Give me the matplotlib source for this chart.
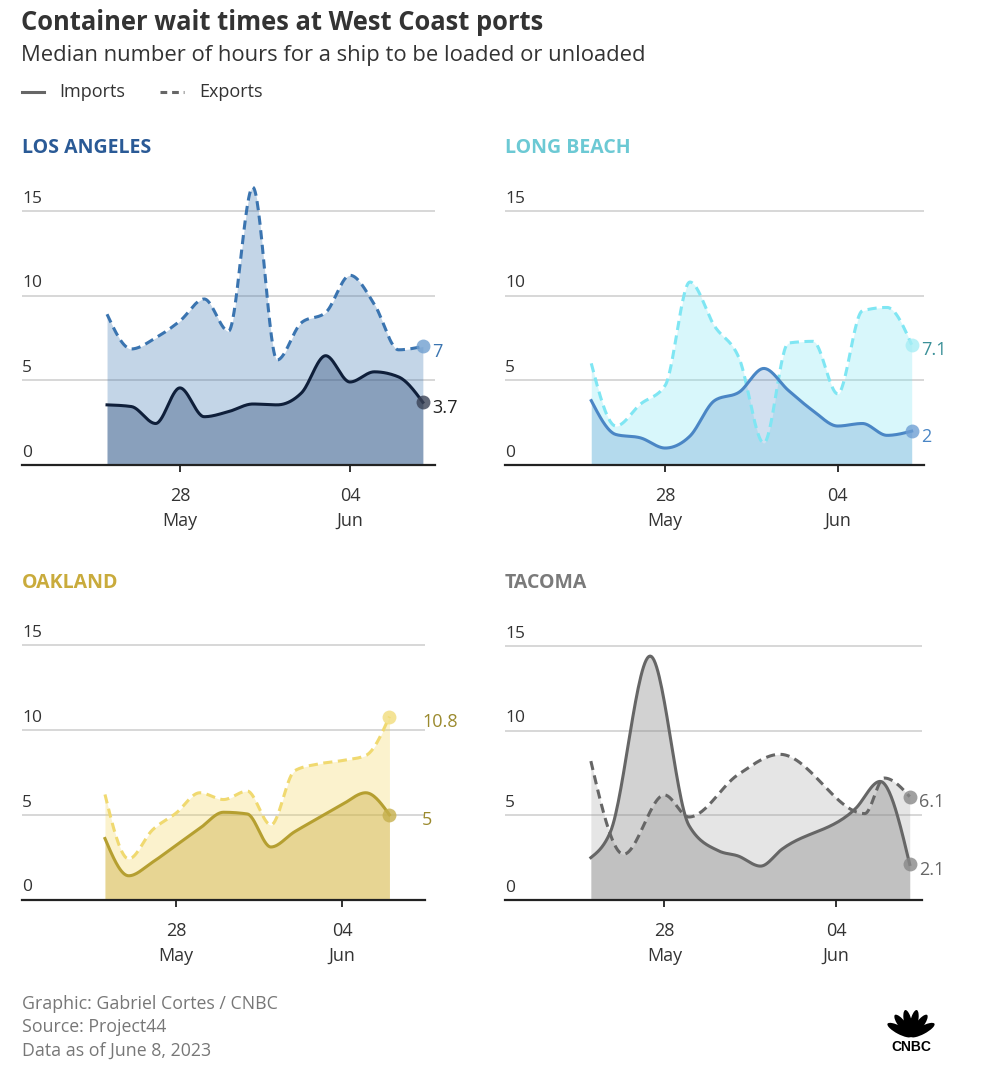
import numpy as np
import pandas as pd
import matplotlib
matplotlib.use("Agg")
import matplotlib.pyplot as plt
import matplotlib.dates as mdates
from matplotlib.lines import Line2D
from matplotlib.patches import Ellipse

plt.rcParams['font.family'] = ['Open Sans', 'DejaVu Sans']

W, H = 1008, 1080

# ---- data (hours) ----
dates = pd.date_range("2023-05-25", "2023-06-07", freq="D")
oak_dates = dates[:-1]

la_imports = [3.55, 3.45, 2.45, 4.55, 2.85, 3.15, 3.6, 3.55, 4.25, 6.45, 4.9, 5.5, 5.2, 3.7]
la_exports = [8.9, 6.85, 7.5, 8.5, 9.8, 7.9, 16.4, 6.2, 8.4, 9.0, 11.2, 9.5, 6.8, 7.0]

lb_imports = [3.8, 1.8, 1.6, 1.0, 1.7, 3.8, 4.3, 5.7, 4.4, 3.2, 2.3, 2.45, 1.75, 2.0]
lb_exports = [6.0, 2.3, 3.6, 4.7, 10.8, 8.2, 6.3, 1.3, 7.2, 7.3, 4.2, 9.1, 9.3, 7.1]

oak_imports = [3.6, 1.4, 2.2, 3.2, 4.2, 5.15, 5.05, 3.1, 4.0, 4.8, 5.6, 6.3, 5.0]
oak_exports = [6.2, 2.4, 4.1, 5.1, 6.3, 5.9, 6.4, 4.4, 7.6, 8.0, 8.2, 8.5, 10.8]

tac_import_times = ["2023-05-25 00:00", "2023-05-25 19:00", "2023-05-27 10:00",
                    "2023-05-29 00:00", "2023-05-30 05:00", "2023-05-31 00:00",
                    "2023-05-31 22:00", "2023-06-01 19:00", "2023-06-04 19:00",
                    "2023-06-05 19:00", "2023-06-07 00:00"]
tac_imports = [2.5, 4.0, 14.4, 4.4, 2.9, 2.6, 2.0, 3.0, 5.4, 7.0, 2.1]
tac_export_times = ["2023-05-25 00:00", "2023-05-26 08:00", "2023-05-28 00:00",
                    "2023-05-29 00:00", "2023-05-31 00:00", "2023-06-01 17:00",
                    "2023-06-05 04:00", "2023-06-05 23:00", "2023-06-07 00:00"]
tac_exports = [8.2, 2.7, 6.2, 4.9, 7.4, 8.6, 5.1, 7.2, 6.1]

y_ticks = [0, 5, 10, 15]
x_ticks = ["2023-05-28", "2023-06-04"]
x_tick_labels = ["28\nMay", "04\nJun"]


def px(x, y):
    return x / W, 1 - y / H


def monotone_path(x, y, n=30):
    # same shape as d3.curveMonotoneX
    x = np.asarray(x, float)
    y = np.asarray(y, float)
    h = np.diff(x)
    s = np.diff(y) / h
    m = np.zeros_like(y)
    for i in range(1, len(y) - 1):
        p = (s[i - 1] * h[i] + s[i] * h[i - 1]) / (h[i - 1] + h[i])
        m[i] = (np.sign(s[i - 1]) + np.sign(s[i])) * min(abs(s[i - 1]), abs(s[i]), 0.5 * abs(p))
    m[0] = (3 * s[0] - m[1]) / 2
    m[-1] = (3 * s[-1] - m[-2]) / 2
    xs, ys = [], []
    for i in range(len(h)):
        t = np.linspace(0, 1, n, endpoint=(i == len(h) - 1))
        h00 = 2 * t**3 - 3 * t**2 + 1
        h10 = t**3 - 2 * t**2 + t
        h01 = -2 * t**3 + 3 * t**2
        h11 = t**3 - t**2
        xs.append(x[i] + t * h[i])
        ys.append(h00 * y[i] + h10 * h[i] * m[i] + h01 * y[i + 1] + h11 * h[i] * m[i + 1])
    return np.concatenate(xs), np.concatenate(ys)


def draw_panel(box, title, title_col, exp_t, exp_v, imp_t, imp_v, st):
    left, right, base = box
    ax_h = 288
    ax = fig.add_axes([left / W, 1 - base / H, (right - left) / W, ax_h / H])
    ax.set_ylim(0, 17)
    x0 = mdates.date2num(pd.Timestamp("2023-05-28")) - 6.5
    x1 = mdates.date2num(pd.Timestamp("2023-05-28")) + 10.5
    ax.set_xlim(x0, x1)

    for s in ["top", "right", "left"]:
        ax.spines[s].set_visible(False)
    ax.spines["bottom"].set_color("#222222")
    ax.spines["bottom"].set_linewidth(1.6)
    ax.set_yticks([])
    for v in y_ticks[1:]:
        ax.axhline(v, color="#d4d4d4", lw=1.3, zorder=0)
    for v in y_ticks:
        ax.annotate(str(v), xy=(0, v), xycoords=("axes fraction", "data"),
                    xytext=(0, 3), textcoords="offset points",
                    ha="left", va="bottom", fontsize=12.5, color="#333333")

    ax.set_xticks(mdates.date2num(pd.to_datetime(x_ticks)))
    ax.set_xticklabels(x_tick_labels, fontsize=13, color="#333333", linespacing=1.5)
    ax.tick_params(axis="x", length=5, width=1.3, color="#222222", pad=11)

    ex = mdates.date2num(pd.to_datetime(exp_t))
    ix = mdates.date2num(pd.to_datetime(imp_t))
    exs, eys = monotone_path(ex, exp_v)
    ixs, iys = monotone_path(ix, imp_v)

    ax.fill_between(exs, 0, eys, color=st["exp_fill"], alpha=st["exp_alpha"], lw=0, zorder=1)
    ax.fill_between(ixs, 0, iys, color=st["imp_fill"], alpha=st["imp_alpha"], lw=0, zorder=2)
    ax.plot(exs, eys, color=st["exp_line"], lw=2.2, ls=(0, (3, 1.8)), zorder=3,
            solid_capstyle="butt", clip_on=False)
    ax.plot(ixs, iys, color=st["imp_line"], lw=2.2, zorder=4, clip_on=False)

    ax.plot(ex[-1], exp_v[-1], "o", ms=10, color=st["exp_dot"], alpha=0.8, mew=0, zorder=5, clip_on=False)
    ax.plot(ix[-1], imp_v[-1], "o", ms=10, color=st["imp_dot"], alpha=0.8, mew=0, zorder=5, clip_on=False)
    ax.annotate(f"{exp_v[-1]:g}", xy=(x1, exp_v[-1]), xytext=(-2, -4), textcoords="offset points",
                ha="left", va="center", fontsize=13, color=st["exp_lab"], annotation_clip=False)
    ax.annotate(f"{imp_v[-1]:g}", xy=(x1, imp_v[-1]), xytext=(-2, -4), textcoords="offset points",
                ha="left", va="center", fontsize=13, color=st["imp_lab"], annotation_clip=False)

    tx, ty = px(left, base - 317)
    fig.text(tx, ty, title, fontsize=14, fontweight="bold", color=title_col, ha="left", va="center")
    return ax


fig = plt.figure(figsize=(W / 100, H / 100), dpi=100)
fig.patch.set_facecolor("white")

# header
fig.text(*px(21, 23), "Container wait times at West Coast ports", fontsize=18.4,
         fontweight="bold", color="#333333", va="center", ha="left")
fig.text(*px(21, 55), "Median number of hours for a ship to be loaded or unloaded", fontsize=15.8,
         color="#333333", va="center", ha="left")
fig.add_artist(Line2D([22 / W, 44 / W], [1 - 92 / H] * 2, color="#666666", lw=2.2))
fig.text(*px(59, 92), "Imports", fontsize=13, color="#333333", va="center", ha="left")
fig.add_artist(Line2D([160 / W, 184 / W], [1 - 92 / H] * 2, color="#666666", lw=2.2,
                      ls=(0, (2.2, 1.6))))
fig.text(*px(199, 92), "Exports", fontsize=13, color="#333333", va="center", ha="left")

la_style = dict(exp_fill="#3a74b0", exp_alpha=0.3, imp_fill="#1f3f6e", imp_alpha=0.35,
                exp_line="#3a74b0", imp_line="#0f1f3a", exp_dot="#6f9fd0", imp_dot="#3a4256",
                exp_lab="#3a74b0", imp_lab="#222222")
lb_style = dict(exp_fill="#7ee6f2", exp_alpha=0.3, imp_fill="#4a86c5", imp_alpha=0.25,
                exp_line="#7fe6f3", imp_line="#4a86c5", exp_dot="#a8eef5", imp_dot="#6e9fd4",
                exp_lab="#3a9098", imp_lab="#4a86c5")
oak_style = dict(exp_fill="#f2d65c", exp_alpha=0.3, imp_fill="#c9ab3c", imp_alpha=0.4,
                 exp_line="#f0d970", imp_line="#b59f30", exp_dot="#f2dd7c", imp_dot="#c6b04c",
                 exp_lab="#9b8a2e", imp_lab="#9b8a2e")
tac_style = dict(exp_fill="#999999", exp_alpha=0.25, imp_fill="#808080", imp_alpha=0.35,
                 exp_line="#666666", imp_line="#666666", exp_dot="#888888", imp_dot="#888888",
                 exp_lab="#666666", imp_lab="#666666")

draw_panel((22, 435, 465), "LOS ANGELES", "#2a5a96", dates, la_exports, dates, la_imports, la_style)
draw_panel((505, 924, 465), "LONG BEACH", "#6cc9d4", dates, lb_exports, dates, lb_imports, lb_style)
draw_panel((22, 425, 899.5), "OAKLAND", "#c9ab3c", oak_dates, oak_exports, oak_dates, oak_imports, oak_style)
draw_panel((505, 922, 900), "TACOMA", "#7a7a7a", tac_export_times, tac_exports,
           tac_import_times, tac_imports, tac_style)

# footer
for i, line in enumerate(["Graphic: Gabriel Cortes / CNBC", "Source: Project44", "Data as of June 8, 2023"]):
    fig.text(*px(22, 1004 + i * 23.5), line, fontsize=12.8, color="#777777", va="center", ha="left")

# CNBC peacock
logo = fig.add_axes([885 / W, 1 - 1040 / H, 52 / W, 30 / H])
logo.set_xlim(-1.1, 1.1)
logo.set_ylim(-0.05, 1.22)
logo.axis("off")
for ang in np.linspace(28, 152, 6):
    a = np.radians(ang)
    logo.add_patch(Ellipse((0.55 * np.cos(a), 0.1 + 0.57 * np.sin(a)), 1.15, 0.34, angle=ang,
                           color="black", lw=0))
fig.text(*px(911, 1047), "CNBC", fontsize=10, fontweight="bold", color="black",
         ha="center", va="center", family=['Liberation Sans', 'DejaVu Sans'])

fig.savefig("out.png", dpi=100, facecolor="white")
